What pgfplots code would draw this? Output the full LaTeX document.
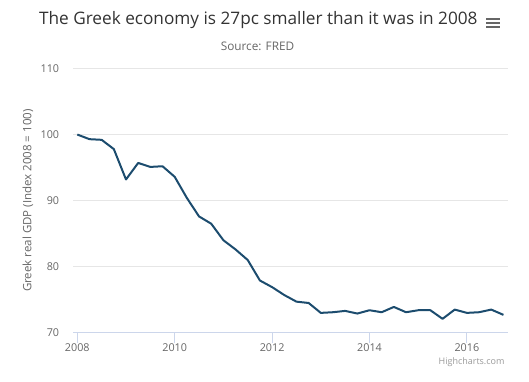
\documentclass[border=0pt]{standalone}
\usepackage{pgfplots}
\pgfplotsset{compat=1.18}
\usepackage{fontspec}
\setmainfont{Open Sans}
\definecolor{linec}{RGB}{28,76,110}
\definecolor{gridc}{HTML}{E6E6E6}
\definecolor{axisc}{HTML}{CCD6EB}
\definecolor{labc}{HTML}{666666}
\definecolor{titc}{HTML}{333333}
\definecolor{credc}{HTML}{999999}
\pgfplotstableread{
x y
2008.00 100.0
2008.25 99.3
2008.50 99.2
2008.75 97.8
2009.00 93.2
2009.25 95.7
2009.50 95.1
2009.75 95.2
2010.00 93.6
2010.25 90.4
2010.50 87.6
2010.75 86.5
2011.00 84.0
2011.25 82.6
2011.50 81.0
2011.75 77.9
2012.00 76.9
2012.25 75.7
2012.50 74.7
2012.75 74.5
2013.00 73.0
2013.25 73.1
2013.50 73.3
2013.75 72.9
2014.00 73.4
2014.25 73.1
2014.50 73.9
2014.75 73.1
2015.00 73.4
2015.25 73.4
2015.50 72.1
2015.75 73.5
2016.00 73.0
2016.25 73.1
2016.50 73.5
2016.75 72.7
}\gdpdata
\begin{document}
\begin{tikzpicture}[x=1pt,y=1pt]
\begin{axis}[
  at={(73.3pt,49.3pt)}, anchor=south west,
  scale only axis, width=435pt, height=264.2pt,
  xmin=2007.918, xmax=2016.85,
  ymin=70, ymax=110,
  xtick={2008,2010,2012,2014,2016},
  ytick={70,80,90,100,110},
  /pgf/number format/assume math mode=true,
  /pgf/number format/1000 sep={},
  axis x line*=bottom, axis y line*=left,
  x axis line style={draw=axisc, line width=1pt, -},
  y axis line style={draw=none},
  ymajorgrids, major grid style={draw=gridc, line width=1pt},
  xtick style={draw=axisc, line width=1pt},
  ytick style={draw=none},
  xtick align=outside, major tick length=10pt,
  ticklabel style={font=\fontsize{10.8}{13}\selectfont, text=labc},
  xticklabel style={anchor=north, inner sep=0pt, yshift=-0.5pt},
  yticklabel style={anchor=east, inner sep=0pt, xshift=-14pt},
  ylabel={Greek real GDP (Index 2008 = 100)},
  every axis y label/.style={at={(axis description cs:0,0.5)}, xshift=-45.3pt, rotate=90, anchor=center, font=\fontsize{11.5}{14}\selectfont, text=labc},
  clip=false,
]
\addplot[linec, line width=2pt, line join=round] table[x=x,y=y]{\gdpdata};
\end{axis}
\node[anchor=base, font=\fontsize{17.2}{21}\selectfont, text=titc] at (258.3pt,357pt) {The Greek economy is 27pc smaller than it was in 2008};
\node[anchor=base, font=\fontsize{11.8}{14}\selectfont, text=labc] at (257.5pt,331.3pt) {Source: FRED};
\node[anchor=base east, font=\fontsize{9}{11}\selectfont, text=credc] at (508pt,17pt) {Highcharts.com};
\draw[labc, line width=1.8pt] (486pt,363pt) -- (500pt,363pt);
\draw[labc, line width=1.8pt] (486pt,359pt) -- (500pt,359pt);
\draw[labc, line width=1.8pt] (486pt,355pt) -- (500pt,355pt);
\pgfresetboundingbox
\path[use as bounding box] (0,0) rectangle (529pt,382pt);
\end{tikzpicture}
\end{document}
